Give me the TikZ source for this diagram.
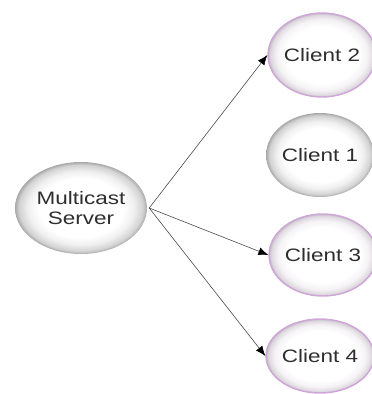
\documentclass[tikz,border=0pt]{standalone}
\usepackage{fontspec}
\setmainfont{Liberation Sans}
\usetikzlibrary{arrows.meta,shapes.geometric}

\definecolor{rimgray}{HTML}{A8A8A8}
\definecolor{midgray}{HTML}{D2D2D2}
\definecolor{palegray}{HTML}{F0F0F0}
\definecolor{rimlilac}{HTML}{C2B9C4}
\definecolor{midlilac}{HTML}{DDD7DE}
\definecolor{palelilac}{HTML}{F5F3F5}
\definecolor{borderlilac}{HTML}{CFA6D8}
\definecolor{labelgray}{HTML}{2E2E2E}
\definecolor{linkgray}{HTML}{4A4A4A}

% Soft bubble fills: bright centre fading to a grey rim
\pgfdeclareradialshading{bubblegray}{\pgfpoint{0bp}{0bp}}{%
  color(0bp)=(white); color(16bp)=(white); color(20bp)=(palegray);
  color(23.5bp)=(midgray); color(25bp)=(rimgray); color(50bp)=(rimgray)}
\pgfdeclareradialshading{bubblelilac}{\pgfpoint{0bp}{0bp}}{%
  color(0bp)=(white); color(17bp)=(white); color(21bp)=(palelilac);
  color(24bp)=(midlilac); color(25bp)=(rimlilac); color(50bp)=(rimlilac)}

\tikzset{
  x=1pt, y=-1pt,
  bubble/.style={ellipse, inner sep=0pt, shading=bubblegray,
    text=labelgray, align=center,
    font=\fontsize{18}{20}\selectfont},
  member/.style={bubble, shading=bubblelilac, draw=borderlilac, line width=1.4pt},
  link/.style={draw=linkgray, line width=0.6pt,
    -{Latex[length=10pt,width=8pt,black]}},
}
\newcommand{\widetext}[1]{\scalebox{1.25}[1]{#1}}

\begin{document}
\begin{tikzpicture}
  \useasboundingbox (0,0) rectangle (372,394);

  \node[bubble, minimum width=132pt, minimum height=92pt] (srv) at (81,208)
    {\widetext{Multicast}\\\widetext{Server}};

  \node[member, minimum width=98pt, minimum height=84pt] (c2) at (322,55) {\widetext{Client 2}};
  \node[bubble, minimum width=100pt, minimum height=84pt] (c1) at (320,155) {\widetext{Client 1}};
  \node[member, minimum width=96pt, minimum height=82pt] (c3) at (323,255) {\widetext{Client 3}};
  \node[member, minimum width=98pt, minimum height=74pt] (c4) at (320,356) {\widetext{Client 4}};

  \coordinate (hub) at ([xshift=2pt]srv.east);
  \draw[link] (hub) -- (c2.west);
  \draw[link] (hub) -- (c3.west);
  \draw[link] (hub) -- (c4.west);
\end{tikzpicture}
\end{document}
